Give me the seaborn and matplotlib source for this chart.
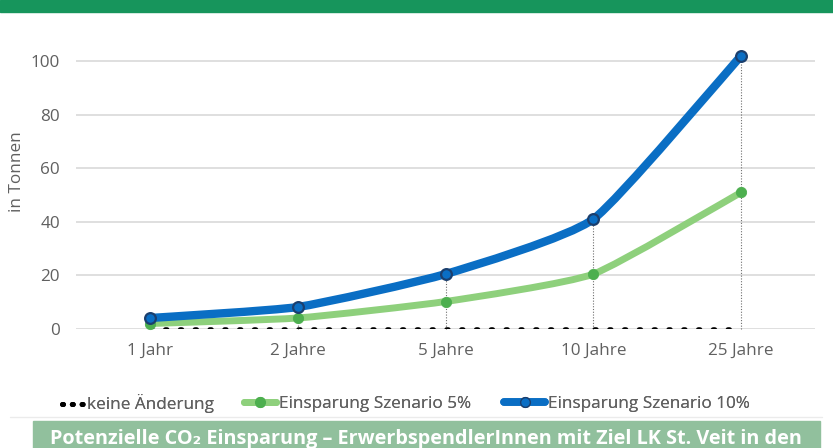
import numpy as np
import pandas as pd
import matplotlib
matplotlib.use("Agg")
import matplotlib.pyplot as plt
from matplotlib.path import Path
from matplotlib.patches import PathPatch, Rectangle
from matplotlib.lines import Line2D
import seaborn as sns

# ---- data ----
categories = ["1 Jahr", "2 Jahre", "5 Jahre", "10 Jahre", "25 Jahre"]
keine_aenderung = [0, 0, 0, 0, 0]
szenario_5 = [2.05, 4.1, 10.25, 20.5, 51.0]
szenario_10 = [4.1, 8.2, 20.5, 41.0, 102.0]
series_names = ["keine Änderung", "Einsparung Szenario 5%", "Einsparung Szenario 10%"]
yticks = [0, 20, 40, 60, 80, 100]
y_label = "in Tonnen"
caption = "Potenzielle CO\u2082 Einsparung \u2013 ErwerbspendlerInnen mit Ziel LK St. Veit in den"

# ---- style ----
sns.set_theme(style="white")
plt.rcParams["font.family"] = ["Open Sans", "DejaVu Sans"]

C_BLUE = "#0A6EC4"
C_BLUE_EDGE = "#1B3F6E"
C_GREEN = "#8ED07C"
C_GREEN_M = "#4DAF4F"
TXT = "#606060"
FS = 12.3

fig = plt.figure(figsize=(8.33, 4.48), dpi=100)
W, H = 833, 448
ax = fig.add_axes([76 / W, 1 - 329 / H, (815 - 76) / W, 0.628])

df = pd.DataFrame({
    "cat": categories * 3,
    "x": list(range(len(categories))) * 3,
    "val": keine_aenderung + szenario_5 + szenario_10,
    "series": [series_names[0]] * 5 + [series_names[1]] * 5 + [series_names[2]] * 5,
})

ax.set_xlim(-0.5, len(categories) - 0.5)
ax.set_ylim(0, 105)

# grid
for t in yticks:
    ax.axhline(t, color="#D9D9D9", lw=1.2, zorder=0)

# vertical drop lines
xs = np.arange(len(categories))
ax.vlines(xs, 0, szenario_10, colors="#6F6F6F", linestyles=(0, (1, 1.5)), lw=0.8, zorder=1)


def smooth_path(x, y, k=1 / 12.0):
    x = np.asarray(x, float)
    y = np.asarray(y, float)
    P = np.column_stack([x, y])
    n = len(P)
    verts = [P[0]]
    codes = [Path.MOVETO]
    for i in range(n - 1):
        p0 = P[i - 1] if i > 0 else P[i]
        p1 = P[i]
        p2 = P[i + 1]
        p3 = P[i + 2] if i + 2 < n else P[i + 1]
        c1 = p1 + (p2 - p0) * k
        c2 = p2 - (p3 - p1) * k
        verts += [c1, c2, p2]
        codes += [Path.CURVE4] * 3
    return Path(verts, codes)


# keine Änderung (dotted)
sns.lineplot(data=df[df.series == series_names[0]], x="x", y="val", ax=ax,
             color="black", lw=3.3, linestyle=(0, (0.4, 2.83)),
             legend=False, zorder=3)
ax.lines[-1].set_dash_capstyle("round")

# smoothed scenario lines
ax.add_patch(PathPatch(smooth_path(xs, szenario_5), fill=False, ec=C_GREEN, lw=5.0,
                       capstyle="round", joinstyle="round", zorder=4))
ax.add_patch(PathPatch(smooth_path(xs, szenario_10), fill=False, ec=C_BLUE, lw=6.0,
                       capstyle="round", joinstyle="round", zorder=5))

sns.scatterplot(data=df[df.series == series_names[1]], x="x", y="val", ax=ax,
                color=C_GREEN_M, edgecolor=C_GREEN_M, s=55, legend=False, zorder=6)
sns.scatterplot(data=df[df.series == series_names[2]], x="x", y="val", ax=ax,
                color=C_BLUE, edgecolor=C_BLUE_EDGE, linewidth=1.6, s=60,
                legend=False, zorder=7)

ax.set_xticks(xs)
ax.set_xticklabels(categories, fontsize=FS, color=TXT)
ax.set_yticks(yticks)
ax.set_yticklabels([str(t) for t in yticks], fontsize=FS, color=TXT)
ax.tick_params(axis="both", length=0)
ax.tick_params(axis="x", pad=10)
ax.tick_params(axis="y", pad=11.5)
ax.set_xlabel("")
ax.set_ylabel("")
for s in ax.spines.values():
    s.set_visible(False)
ax.set_facecolor("none")
for c in ax.collections:
    c.set_clip_on(False)
for p in ax.patches:
    p.set_clip_on(False)

fig.text(17 / W, 1 - 172 / H, y_label, rotation=90, ha="center", va="center",
         fontsize=FS, color=TXT)

# legend (three entries placed like the reference)
h_dots = Line2D([], [], color="black", lw=3.6, linestyle=(0, (0.2, 1.76)),
                dash_capstyle="round")
h_green = Line2D([], [], color=C_GREEN, lw=5, marker="o", markersize=7,
                 markerfacecolor=C_GREEN_M, markeredgecolor=C_GREEN_M)
h_blue = Line2D([], [], color=C_BLUE, lw=5.5, marker="o", markersize=7,
                markerfacecolor=C_BLUE, markeredgecolor=C_BLUE_EDGE)
leg_y = 1 - 404 / H
fs_px = FS * 100 / 72
for h, name, x0, hl_px, pad in [(h_dots, series_names[0], 62, 21, 0.25),
                                (h_green, series_names[1], 244, 32, 0.15),
                                (h_blue, series_names[2], 504, 41, 0.15)]:
    lg = fig.legend([h], [name], loc="center left", bbox_to_anchor=(x0 / W, leg_y),
                    frameon=False, fontsize=FS, handlelength=hl_px / fs_px,
                    handletextpad=pad, borderpad=0, borderaxespad=0, labelcolor=TXT)
    fig.add_artist(lg)

# decorations: top banner, separator, caption box
fig.patches.append(Rectangle((0, 1 - 12 / H), 1, 12 / H, transform=fig.transFigure,
                             color="#17955C", zorder=0))
fig.lines.append(Line2D([10 / W, 822 / W], [1 - 417 / H] * 2, transform=fig.transFigure,
                        color="#EBEBEB", lw=1.0))
fig.patches.append(Rectangle((33 / W, 0), (820 - 33) / W, (448 - 421) / H,
                             transform=fig.transFigure, color="#91C09D", zorder=0))
fig.text(426 / W, 4 / H, caption, ha="center", va="baseline", fontsize=14.3,
         fontweight="bold", color="white", family=["Open Sans", "DejaVu Sans"])

fig.savefig("out.png", dpi=100)
